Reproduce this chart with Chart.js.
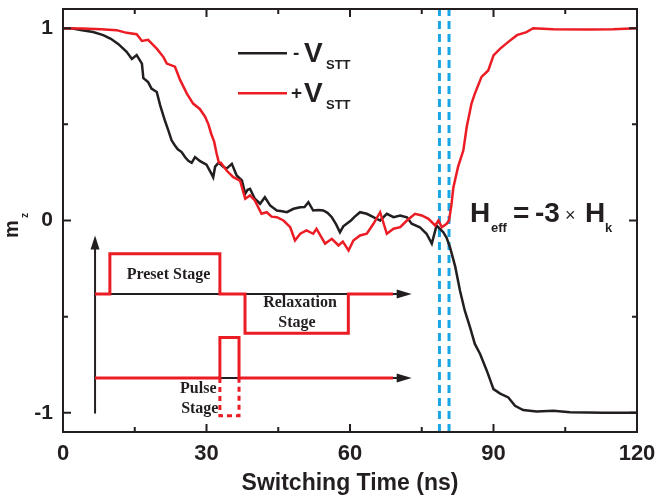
<!DOCTYPE html>
<html><head><meta charset="utf-8">
<script src="https://cdn.jsdelivr.net/npm/chart.js@4.4.0/dist/chart.umd.min.js"></script>
<style>html,body{margin:0;padding:0;background:#fff;}#wrap{width:657px;height:499px;position:relative;}</style>
</head><body><div id="wrap"><canvas id="c"></canvas></div>
<script>
// ---- axis ticks ----
const xTicks = [0, 30, 60, 90, 120];
const xMinor = [15, 45, 75, 105];
const yTicks = [-1, 0, 1];
const yMinor = [-0.5, 0.5];

// ---- series: -V_STT (black) ----
const tMinus = [0,2,4,6.3,8.4,10,11.6,13.3,14.4,15.4,16.5,16.8,17.8,18.5,19.6,20.3,21.3,22.0,22.7,23.4,24.0,24.8,25.5,26.2,26.9,27.6,28.6,29.3,30.0,31.1,31.4,31.8,32.5,32.8,33.5,34.2,35.3,36.3,37.4,38.1,38.6,39.1,40.1,41.2,42.2,43.3,44.7,45.8,46.8,48.2,49.6,50.5,51.3,52.3,53.4,54.4,55.3,56.2,57.1,57.9,58.6,59.3,60.2,61.0,62.1,63.5,64.9,66.3,67.7,69.1,70.5,71.9,72.9,74.6,76.0,77.1,78.1,78.8,79.5,80.2,80.9,82.0,83.0,84.0,85.1,86.1,87.2,88.6,90.0,91.4,93.1,94.5,96.2,99.0,102.5,106,113,120];
const mMinus = [1.0,0.998,0.99,0.98,0.964,0.945,0.917,0.877,0.84,0.86,0.816,0.74,0.72,0.686,0.668,0.6,0.52,0.47,0.417,0.39,0.37,0.356,0.33,0.31,0.30,0.33,0.31,0.30,0.29,0.24,0.225,0.28,0.30,0.295,0.28,0.27,0.295,0.234,0.208,0.139,0.16,0.165,0.113,0.087,0.121,0.078,0.052,0.048,0.043,0.061,0.069,0.07,0.095,0.052,0.055,0.052,0.04,0.017,-0.02,-0.061,-0.03,-0.017,0.0,0.02,0.043,0.035,0.017,0.0,0.035,0.017,0.026,0.017,-0.017,-0.035,-0.069,-0.12,-0.026,-0.043,-0.061,-0.09,-0.139,-0.24,-0.365,-0.469,-0.556,-0.642,-0.694,-0.781,-0.877,-0.9,-0.92,-0.964,-0.986,-0.993,-0.99,-0.997,-1.0,-1.0];

// ---- series: +V_STT (red) ----
const tPlus = [0,4,8,11.2,13.3,15.4,16.5,17.8,19.6,21.0,21.7,23.4,24.5,25.9,27.2,28.6,29.7,30.4,31.0,31.6,32.1,32.6,33.0,34.2,35.6,37.0,38.1,39.1,40.1,41.5,42.6,43.6,44.7,46.1,47.5,48.5,49.6,50.9,52.3,53.0,54.8,56.2,57.6,58.5,59.7,60.7,62.1,63.5,64.9,66.3,67.7,69.1,70.5,71.9,73.6,75.0,76.4,77.8,78.5,79.2,80.2,80.7,81.2,81.6,82.6,83.7,84.4,85.4,86.1,87.5,88.9,90.0,91.4,93.1,94.9,96.9,98.3,102.5,109.5,115,120];
const mPlus = [1.0,0.998,0.995,0.99,0.976,0.969,0.934,0.94,0.894,0.85,0.816,0.8,0.73,0.66,0.608,0.58,0.54,0.5,0.45,0.41,0.35,0.30,0.30,0.26,0.225,0.208,0.113,0.13,0.104,0.035,0.043,0.02,0.017,0.0,-0.035,-0.104,-0.069,-0.052,-0.069,-0.043,-0.12,-0.095,-0.13,-0.11,-0.156,-0.104,-0.078,-0.069,-0.017,0.043,-0.069,-0.043,-0.035,0.0,0.035,0.026,0.009,-0.026,0.0,-0.035,-0.017,0.0,0.08,0.17,0.28,0.365,0.486,0.608,0.66,0.747,0.78,0.859,0.894,0.929,0.964,0.98,1.0,0.995,0.993,0.995,1.0];

// ---- dashed marker times ----
const markerTimes = [78.7, 80.7];

// ---- inset timing diagram ----
const presetT = [6.7,9.8,9.8,32.8,32.8,38.05,38.05,59.65,59.65,69.0];
const presetV = [-0.382,-0.382,-0.173,-0.173,-0.382,-0.382,-0.587,-0.587,-0.382,-0.382];
const pulseT = [6.7,32.8,32.8,36.8,36.8,69.0];
const pulseV = [-0.819,-0.819,-0.608,-0.608,-0.819,-0.819];
const pulseDashT = [32.8,32.8,36.8,36.8];
const pulseDashV = [-0.819,-1.016,-1.016,-0.819];
const baseT = [6.7, 70.0];
const baseLevels = [-0.382, -0.819];
const insetAxisT = [6.7, 6.7];
const insetAxisV = [-1.004, -0.14];
const arrowTips = [{x:6.7,y:-0.078,dir:'up'},{x:72.9,y:-0.382,dir:'right'},{x:72.9,y:-0.819,dir:'right'}];
const insetLabels = [
  {text:'Preset Stage', x:22.06, y:-0.305, align:'center'},
  {text:'Relaxation', x:49.55, y:-0.449, align:'center'},
  {text:'Stage', x:48.9, y:-0.555, align:'center'},
  {text:'Pulse', x:32.1, y:-0.897, align:'right'},
  {text:'Stage', x:32.5, y:-1.002, align:'right'}
];

const RED = '#ec1c24', BLACK = '#231f20', BLUE = '#1aa6e4';
const pts = (xs, ys) => xs.map((x, i) => ({x, y: ys[i]}));

const deco = {
  id: 'deco',
  afterDatasetsDraw(chart) {
    const {ctx, chartArea: a, scales: {x, y}} = chart;
    ctx.save();
    // frame
    ctx.strokeStyle = BLACK; ctx.lineWidth = 2;
    ctx.strokeRect(a.left, a.top, a.right - a.left, a.bottom - a.top);
    // inward ticks on all sides
    ctx.lineWidth = 2;
    const tick = (v, len, horiz) => {
      ctx.beginPath();
      if (horiz) {
        const px = x.getPixelForValue(v);
        ctx.moveTo(px, a.bottom); ctx.lineTo(px, a.bottom - len);
        ctx.moveTo(px, a.top); ctx.lineTo(px, a.top + len);
      } else {
        const py = y.getPixelForValue(v);
        ctx.moveTo(a.left, py); ctx.lineTo(a.left + len, py);
        ctx.moveTo(a.right, py); ctx.lineTo(a.right - len, py);
      }
      ctx.stroke();
    };
    xTicks.forEach(v => tick(v, 8, true));
    xMinor.forEach(v => tick(v, 5, true));
    yTicks.forEach(v => tick(v, 8, false));
    yMinor.forEach(v => tick(v, 5, false));
    // arrowheads
    ctx.fillStyle = BLACK;
    arrowTips.forEach(t => {
      const px = x.getPixelForValue(t.x), py = y.getPixelForValue(t.y);
      ctx.beginPath();
      if (t.dir === 'up') {
        ctx.moveTo(px, py); ctx.lineTo(px - 4.5, py + 14); ctx.lineTo(px + 4.5, py + 14);
      } else {
        ctx.moveTo(px, py); ctx.lineTo(px - 15, py - 4.5); ctx.lineTo(px - 15, py + 4.5);
      }
      ctx.closePath(); ctx.fill();
    });
    // inset labels
    ctx.font = 'bold 16px "Liberation Serif", "Times New Roman", serif';
    ctx.textBaseline = 'alphabetic';
    insetLabels.forEach(l => {
      ctx.textAlign = l.align;
      ctx.fillText(l.text, x.getPixelForValue(l.x), y.getPixelForValue(l.y));
    });
    // legend
    const sans = '"Liberation Sans", Arial, sans-serif';
    ctx.textAlign = 'left';
    const legend = [{c: BLACK, sign: '-', sx: 293, ly: 53.3, base: 61.7}, {c: RED, sign: '+', sx: 291, ly: 93.3, base: 101.7}];
    legend.forEach(l => {
      ctx.strokeStyle = l.c; ctx.lineWidth = 2.5;
      ctx.beginPath(); ctx.moveTo(238, l.ly); ctx.lineTo(287, l.ly); ctx.stroke();
      ctx.fillStyle = BLACK;
      ctx.font = 'bold 19px ' + sans;
      ctx.textBaseline = 'middle';
      ctx.fillText(l.sign, l.sx, l.ly);
      ctx.textBaseline = 'alphabetic';
      ctx.font = 'bold 28px ' + sans;
      ctx.fillText('V', 304, l.base);
      ctx.font = 'bold 13px ' + sans;
      ctx.fillText('STT', 326, l.base + 7);
    });
    // H_eff annotation
    ctx.fillStyle = BLACK;
    ctx.font = 'bold 28px ' + sans;
    ctx.fillText('H', 470, 222.3);
    ctx.font = 'bold 13px ' + sans;
    ctx.fillText('eff', 491, 231.5);
    ctx.font = 'bold 28px ' + sans;
    ctx.fillText('=', 513, 222.3);
    ctx.fillText('-3', 535, 222.3);
    ctx.font = '18px ' + sans;
    ctx.fillText('\u00d7', 565, 221);
    ctx.font = 'bold 28px ' + sans;
    ctx.fillText('H', 585, 222.3);
    ctx.font = 'bold 13px ' + sans;
    ctx.fillText('k', 605, 231.5);
    // y-axis title m_z
    ctx.save();
    ctx.translate(18, 238);
    ctx.rotate(-Math.PI / 2);
    ctx.font = 'bold 20px ' + sans;
    ctx.fillText('m', 0, 0);
    ctx.font = 'bold 10px ' + sans;
    ctx.fillText('z', 20, 10);
    ctx.restore();
    ctx.restore();
  }
};

const lineDs = (data, color, width, dash, extra) => Object.assign({
  data, borderColor: color, borderWidth: width, borderDash: dash || [],
  pointRadius: 0, tension: 0, fill: false
}, extra || {});

const datasets = [
  lineDs(pts(tPlus, mPlus), RED, 2.5, null, {label: '+ VSTT'}),
  lineDs(pts(tMinus, mMinus), BLACK, 2.5, null, {label: '- VSTT'}),
  ...markerTimes.map(t => lineDs([{x: t, y: -1.1}, {x: t, y: 1.1}], BLUE, 3, [8, 5], {label: 'marker'})),
  lineDs(pts(presetT, presetV), RED, 3, null, {label: 'preset'}),
  lineDs(pts(pulseT, pulseV), RED, 3, null, {label: 'pulse'}),
  lineDs(pts(pulseDashT, pulseDashV), RED, 3, [5, 4], {label: 'pulse dash'}),
  ...baseLevels.map(v => lineDs([{x: baseT[0], y: v}, {x: baseT[1], y: v}], BLACK, 2, null, {label: 'base'})),
  lineDs(pts(insetAxisT, insetAxisV), BLACK, 2, null, {label: 'inset axis'})
];

const SANS = '"Liberation Sans", Arial, sans-serif';

new Chart(document.getElementById('c'), {
  type: 'line',
  data: {datasets},
  options: {
    responsive: true, maintainAspectRatio: false, animation: false,
    layout: {padding: {top: 9, right: 20, left: 0, bottom: 0}},
    plugins: {legend: {display: false}, tooltip: {enabled: false}},
    scales: {
      x: {
        type: 'linear', min: 0, max: 120,
        afterBuildTicks: s => { s.ticks = xTicks.map(v => ({value: v})); },
        afterFit: s => { s.height = 67; s.paddingLeft = 0; s.paddingRight = 0; s.paddingTop = 0; s.paddingBottom = 0; },
        grid: {display: false, drawTicks: false},
        border: {display: false},
        ticks: {color: BLACK, padding: 9, font: {family: SANS, size: 22, weight: 'bold'}},
        title: {display: true, text: 'Switching Time (ns)', color: BLACK, padding: {top: 0, bottom: 2},
          font: {family: SANS, size: 23, weight: 'bold'}}
      },
      y: {
        type: 'linear', min: -1.1, max: 1.1,
        afterBuildTicks: s => { s.ticks = yTicks.map(v => ({value: v})); },
        afterFit: s => { s.width = 63; s.paddingLeft = 0; s.paddingRight = 0; s.paddingTop = 0; s.paddingBottom = 0; },
        grid: {display: false, drawTicks: false},
        border: {display: false},
        ticks: {color: BLACK, padding: 10, font: {family: SANS, size: 21, weight: 'bold'}}
      }
    }
  },
  plugins: [deco]
});
</script>
</body></html>
